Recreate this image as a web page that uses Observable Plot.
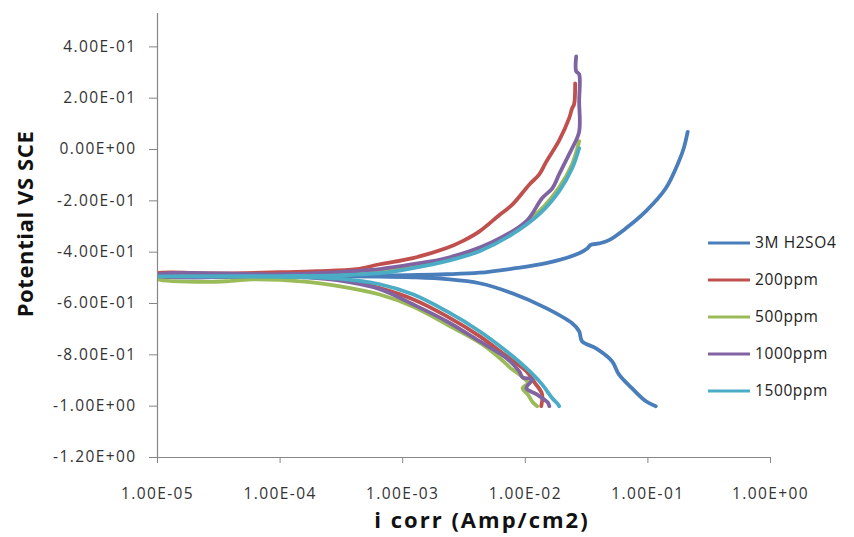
<!DOCTYPE html>
<html>
<head>
<meta charset="utf-8">
<script src="https://cdn.jsdelivr.net/npm/d3@7"></script>
<script src="https://cdn.jsdelivr.net/npm/@observablehq/plot@0.6"></script>
<style>
  html, body { margin: 0; padding: 0; background: #fff; }
  #chart svg { display: block; }
  g[aria-label$="tick"] { stroke: #868686; }
  g[aria-label$="tick label"] { fill: #333; letter-spacing: 1.4px; }
</style>
</head>
<body>
<div id="chart"></div>
<script>
// ---- Data (current in A/cm2, potential in V vs SCE), cathodic end -> Ecorr -> anodic end
const seriesNames = ["3M H2SO4", "200ppm", "500ppm", "1000ppm", "1500ppm"];
const seriesColors = ["#4A7EBB", "#C0504D", "#9BBB59", "#8064A2", "#4BACC6"];

const h2so4_I = [0.116, 0.0964, 0.0741, 0.058, 0.051, 0.0378, 0.029, 0.0275, 0.0241, 0.0148, 0.00783, 0.00423, 0.00228, 0.0012, 0.00065, 0.0003, 0.0001, 0.00001,
                 0.00001, 0.0001, 0.00065, 0.00228, 0.00423, 0.00783, 0.0148, 0.0275, 0.032, 0.034, 0.04, 0.0482, 0.0662, 0.0964, 0.14, 0.179, 0.196, 0.211];
const h2so4_E = [-1.000, -0.981, -0.930, -0.876, -0.825, -0.775, -0.747, -0.708, -0.677, -0.618, -0.560, -0.521, -0.505, -0.498, -0.495, -0.494, -0.494, -0.494,
                 -0.492, -0.492, -0.491, -0.486, -0.480, -0.464, -0.443, -0.404, -0.386, -0.372, -0.366, -0.353, -0.307, -0.240, -0.151, -0.046, 0.005, 0.069];

const ppm200_I = [0.0135, 0.0137, 0.012, 0.0102, 0.00702, 0.00423, 0.00228, 0.00121, 0.00065, 0.0003, 0.00015, 0.00001,
                  0.00001, 0.00003, 0.0001, 0.0002, 0.00042, 0.00065, 0.00121, 0.00228, 0.00308, 0.00423, 0.00615, 0.00783, 0.0108, 0.013, 0.0148, 0.0189, 0.0228, 0.0241, 0.025, 0.0255];
const ppm200_E = [-1.000, -0.953, -0.910, -0.864, -0.805, -0.727, -0.649, -0.583, -0.540, -0.505, -0.492, -0.487,
                  -0.482, -0.483, -0.478, -0.474, -0.466, -0.447, -0.423, -0.384, -0.357, -0.319, -0.255, -0.215, -0.136, -0.097, -0.048, 0.036, 0.122, 0.161, 0.176, 0.258];

const ppm500_I = [0.0125, 0.0115, 0.0105, 0.0095, 0.0105, 0.0089, 0.0075, 0.00702, 0.0045, 0.00228, 0.00121, 0.00065, 0.0003, 0.00015, 0.0001, 0.00006, 0.00004, 0.000025, 0.00001,
                  0.00001, 0.0001, 0.0003, 0.00065, 0.00121, 0.00228, 0.00423, 0.00783, 0.013, 0.0189, 0.0241, 0.0275];
const ppm500_E = [-1.000, -0.985, -0.955, -0.930, -0.910, -0.876, -0.850, -0.836, -0.760, -0.681, -0.612, -0.565, -0.532, -0.514, -0.508, -0.506, -0.512, -0.516, -0.505,
                  -0.500, -0.497, -0.490, -0.476, -0.456, -0.428, -0.390, -0.322, -0.240, -0.147, -0.057, 0.032];

const ppm1000_I = [0.0157, 0.0152, 0.0123, 0.0102, 0.0114, 0.0095, 0.00893, 0.00702, 0.00423, 0.00228, 0.00121, 0.00065, 0.0003, 0.00015, 0.0001, 0.00001,
                   0.00001, 0.0001, 0.0002, 0.0004, 0.00065, 0.00121, 0.00228, 0.0054, 0.0102, 0.0137, 0.0166, 0.0189, 0.0228, 0.0241, 0.0275, 0.0275, 0.0275, 0.026, 0.026];
const ppm1000_E = [-1.000, -0.985, -0.953, -0.930, -0.895, -0.888, -0.864, -0.813, -0.747, -0.669, -0.603, -0.544, -0.510, -0.497, -0.493, -0.492,
                   -0.487, -0.486, -0.482, -0.474, -0.466, -0.447, -0.423, -0.360, -0.279, -0.190, -0.151, -0.096, -0.018, 0.005, 0.070, 0.188, 0.293, 0.305, 0.363];

const ppm1500_I = [0.0189, 0.0183, 0.0166, 0.0137, 0.0102, 0.00702, 0.00423, 0.00228, 0.00121, 0.00065, 0.0003, 0.00015, 0.00001,
                   0.00001, 0.0001, 0.0003, 0.00065, 0.00121, 0.00228, 0.00423, 0.00783, 0.013, 0.0189, 0.0241, 0.0275];
const ppm1500_E = [-1.000, -0.990, -0.969, -0.915, -0.852, -0.786, -0.708, -0.630, -0.564, -0.525, -0.503, -0.497, -0.494,
                   -0.494, -0.493, -0.490, -0.482, -0.462, -0.435, -0.396, -0.330, -0.252, -0.162, -0.073, 0.005];

const xTicks = [1e-5, 1e-4, 1e-3, 1e-2, 1e-1, 1];
const yTicks = [-1.2, -1.0, -0.8, -0.6, -0.4, -0.2, 0, 0.2, 0.4];
const xLabel = "i corr (Amp/cm2)";
const yLabel = "Potential VS SCE";

// ---- Build table
const seriesI = [h2so4_I, ppm200_I, ppm500_I, ppm1000_I, ppm1500_I];
const seriesE = [h2so4_E, ppm200_E, ppm500_E, ppm1000_E, ppm1500_E];
const tables = seriesNames.map((name, k) => seriesI[k].map((i, j) => ({series: name, i, E: seriesE[k][j]})));

function sci(v) {
  const [m, e] = v.toExponential(2).split("e");
  const n = +e;
  return m + "E" + (n < 0 ? "-" : "+") + String(Math.abs(n)).padStart(2, "0");
}

const chart = Plot.plot({
  width: 854,
  height: 537,
  marginLeft: 157,
  marginRight: 84,
  marginTop: 13,
  marginBottom: 80,
  style: {fontFamily: "'Open Sans', sans-serif", fontSize: "15.5px", background: "#fff"},
  x: {type: "log", domain: [1e-5, 1]},
  y: {domain: [-1.2, 0.53]},
  marks: [
    Plot.axisX({ticks: xTicks, tickFormat: sci, tickSize: 6, tickPadding: 24, label: null}),
    Plot.axisY({ticks: yTicks, tickFormat: sci, tickSize: 8, tickPadding: 13, label: null}),
    ...tables.map((t, k) => Plot.line(t, {x: "i", y: "E", stroke: seriesColors[k], strokeWidth: 3.8, strokeLinejoin: "round", strokeLinecap: "round", curve: "catmull-rom", clip: true})),
    Plot.ruleX([1e-5], {stroke: "#868686", strokeWidth: 1.2}),
    Plot.ruleY([-1.2], {stroke: "#868686", strokeWidth: 1.2})
  ]
});

document.getElementById("chart").appendChild(chart);

// ---- Axis titles and legend
const svg = d3.select(chart);
svg.append("text")
  .attr("x", 482).attr("y", 528)
  .attr("text-anchor", "middle")
  .style("font-family", "'Open Sans', sans-serif")
  .style("font-weight", "bold").style("font-size", "22px").style("letter-spacing", "2px")
  .attr("fill", "#111")
  .text(xLabel);
svg.append("text")
  .attr("transform", "translate(33,224) rotate(-90)")
  .attr("text-anchor", "middle")
  .style("font-family", "'Open Sans', sans-serif")
  .style("font-weight", "bold").style("font-size", "22px").style("letter-spacing", "0.6px")
  .attr("fill", "#111")
  .text(yLabel);

const legendRows = [243, 280, 317, 354, 391];
const lg = svg.append("g");
seriesNames.forEach((name, k) => {
  lg.append("line").attr("x1", 708).attr("x2", 750).attr("y1", legendRows[k]).attr("y2", legendRows[k])
    .attr("stroke", seriesColors[k]).attr("stroke-width", 3);
  lg.append("text").attr("x", 755).attr("y", legendRows[k]).attr("dy", "0.35em")
    .attr("text-anchor", "start")
    .style("font-family", "'Open Sans', sans-serif").style("font-size", "15.5px").style("letter-spacing", "0.6px")
    .attr("fill", "#222").text(name);
});
</script>
</body>
</html>
